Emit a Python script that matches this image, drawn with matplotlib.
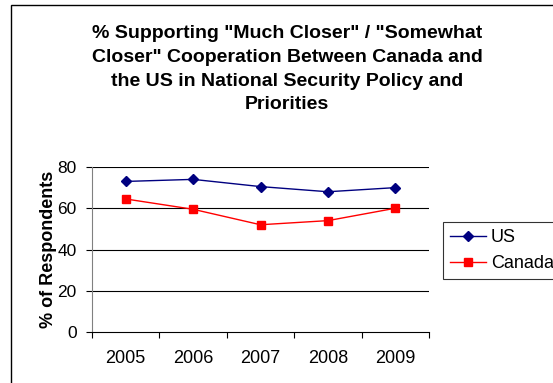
import matplotlib
matplotlib.use("Agg")
import matplotlib.pyplot as plt
from matplotlib.patches import Rectangle

plt.rcParams['font.family'] = ['Liberation Sans', 'DejaVu Sans']

years = ["2005", "2006", "2007", "2008", "2009"]
us = [73, 74, 70.5, 68, 70]
canada = [64.5, 59.5, 52, 54, 60]
yticks = [0, 20, 40, 60, 80]
title = ('% Supporting "Much Closer" / "Somewhat\nCloser" Cooperation Between Canada and\n'
         'the US in National Security Policy and\nPriorities')

W, H = 553, 383
fig = plt.figure(figsize=(W / 100, H / 100), dpi=100)
fig.patch.set_facecolor('white')

# outer chart frame
fig.patches.append(Rectangle((11 / W, -0.05), 1.2, 1 - 5 / H + 0.05, transform=fig.transFigure,
                             fill=False, edgecolor='black', linewidth=1.0))

ax = fig.add_axes([92 / W, 1 - 332 / H, (429 - 92) / W, (332 - 167) / H])
x = list(range(len(years)))
ax.plot(x, us, color='#000080', marker='D', markersize=5.5, linewidth=1, label='US')
ax.plot(x, canada, color='#FF0000', marker='s', markersize=5.5, linewidth=1, label='Canada')

ax.set_xlim(-0.5, len(years) - 0.5)
ax.set_ylim(0, 80)
ax.set_yticks(yticks)
ax.set_yticklabels([str(v) for v in yticks], fontsize=12.5)
ax.set_xticks([i - 0.5 for i in range(len(years) + 1)], minor=False)
ax.set_xticklabels([])
ax.set_xticks(x, minor=True)
ax.set_xticklabels(years, minor=True, fontsize=13)
ax.tick_params(axis='x', which='minor', length=0, pad=13)
ax.tick_params(axis='x', which='major', direction='out', length=4, color='black')
ax.tick_params(axis='y', direction='out', length=4, color='black', pad=7)

for v in yticks[1:]:
    ax.axhline(v, color='black', linewidth=0.8, zorder=0)
for s in ['top', 'right']:
    ax.spines[s].set_visible(False)
ax.spines['left'].set_color('#808080')
ax.spines['bottom'].set_color('black')

ax.set_ylabel('% of Respondents', fontsize=13, fontweight='bold', labelpad=0)

fig.text(287 / W, 1 - 25 / H, title, ha='center', va='top', fontsize=14, fontweight='bold',
         linespacing=1.52)

leg = ax.legend(loc='upper left', bbox_to_anchor=(443 / W, 1 - 222 / H), bbox_transform=fig.transFigure,
                fontsize=13, frameon=True, fancybox=False, edgecolor='black', borderpad=0.4,
                handlelength=2.0, handletextpad=0.25, labelspacing=0.5, borderaxespad=0)
leg.get_frame().set_linewidth(0.8)

fig.savefig('out.png', dpi=100)
